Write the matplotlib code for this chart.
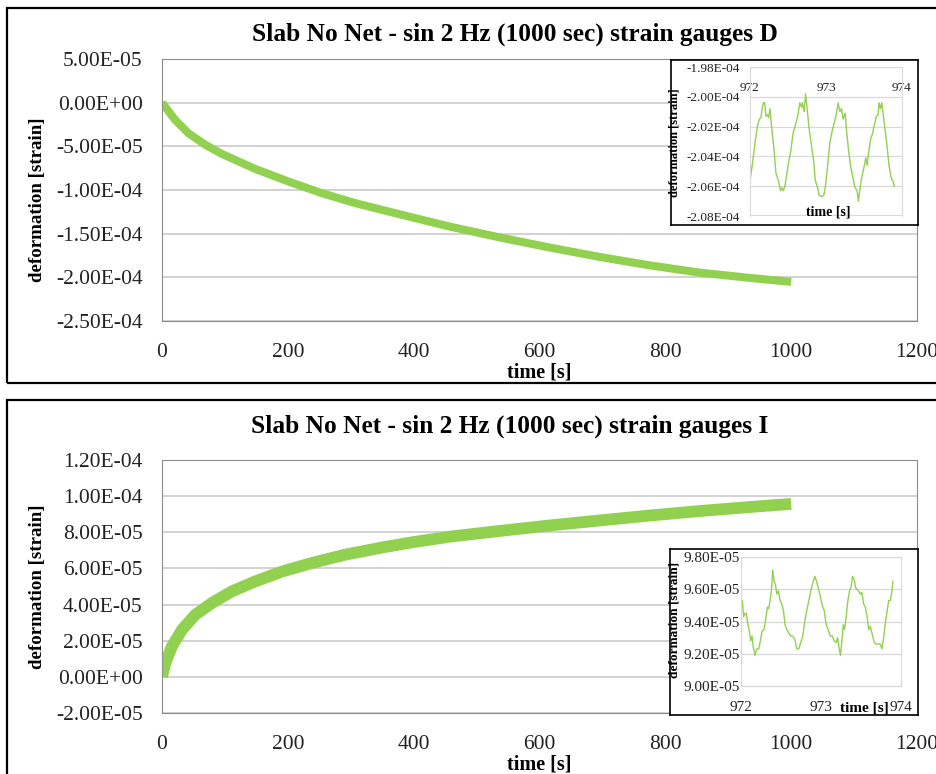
import numpy as np
import matplotlib
matplotlib.use("Agg")
import matplotlib.pyplot as plt
from matplotlib.patches import Rectangle

plt.rcParams['font.family'] = ['Liberation Serif', 'DejaVu Serif']

GREEN = '#92D050'

# --- gauge D, whole run (trend of the dense 2 Hz signal) ---
d_time = [0, 21, 42, 69, 95, 148, 201, 254, 307, 360, 403, 458, 538, 617,
          697, 776, 856, 935, 1000]
d_strain = [0, -19.8, -35.0, -48.3, -58.6, -75.8, -90.3, -103.6, -115.0,
            -124.6, -132.3, -142.0, -154.5, -166.0, -176.8, -186.4, -194.7,
            -200.7, -205.2]  # x1e-6

# --- gauge D, zoom 972-974 s ---
d_zoom_time = [972.000, 972.035, 972.066, 972.096, 972.123, 972.144, 972.162,
               972.179, 972.193, 972.210, 972.228, 972.245, 972.263, 972.284,
               972.315, 972.341, 972.372, 972.403, 972.420, 972.438, 972.460,
               972.481, 972.508, 972.534, 972.569, 972.604, 972.635, 972.656,
               972.678, 972.691, 972.713, 972.731, 972.748, 972.775, 972.810,
               972.840, 972.858, 972.884, 972.910, 972.941, 972.972, 972.993,
               973.020, 973.050, 973.085, 973.116, 973.138, 973.160, 973.182,
               973.204, 973.225, 973.252, 973.269, 973.295, 973.322, 973.357,
               973.383, 973.409, 973.427, 973.444, 973.466, 973.497, 973.523,
               973.540, 973.567, 973.589, 973.610, 973.632, 973.663, 973.685,
               973.698, 973.716, 973.733, 973.751, 973.772, 973.803, 973.829,
               973.856, 973.882, 973.899]
d_zoom_strain = [-205.6, -204.4, -203.1, -202.0, -201.5, -201.4, -200.7,
                 -200.4, -200.4, -201.3, -201.2, -201.4, -200.8, -202.0,
                 -203.5, -205.1, -205.6, -206.3, -206.1, -206.3, -206.0,
                 -205.3, -204.4, -203.7, -202.4, -201.8, -201.1, -200.4,
                 -200.7, -200.4, -201.0, -199.8, -200.6, -202.0, -203.3,
                 -204.4, -205.6, -206.0, -206.6, -206.7, -206.6, -206.0,
                 -204.7, -203.1, -202.2, -201.6, -201.1, -200.4, -201.0,
                 -200.8, -201.5, -201.1, -202.2, -203.5, -204.6, -205.5,
                 -206.1, -206.3, -207.0, -206.3, -205.5, -204.8, -204.1,
                 -204.6, -203.5, -202.8, -202.5, -202.0, -201.3, -201.2,
                 -200.4, -200.8, -200.4, -201.1, -202.0, -203.3, -204.6,
                 -205.4, -205.7, -206.0]

# --- gauge I, whole run ---
i_time = [0, 5.3, 15.9, 31.8, 53, 79.5, 111, 148, 191, 238, 291, 350, 400,
          458, 538, 617, 697, 776, 856, 935, 1000]
i_strain = [0, 7.7, 16.9, 26.1, 34.4, 40.9, 47.3, 52.8, 58.3, 63.0, 67.6,
            71.6, 74.6, 77.6, 80.8, 83.8, 86.6, 89.3, 91.8, 94.0, 95.7]

# --- gauge I, zoom 972-974 s ---
i_zoom_time = [972.000, 972.017, 972.033, 972.050, 972.067, 972.084, 972.104,
               972.121, 972.138, 972.154, 972.175, 972.196, 972.221, 972.246,
               972.263, 972.288, 972.313, 972.330, 972.347, 972.363, 972.380,
               972.397, 972.413, 972.430, 972.447, 972.468, 972.489, 972.509,
               972.530, 972.551, 972.572, 972.597, 972.622, 972.647, 972.672,
               972.697, 972.722, 972.747, 972.772, 972.797, 972.823, 972.848,
               972.873, 972.898, 972.923, 972.944, 972.965, 972.990, 973.015,
               973.040, 973.065, 973.090, 973.115, 973.140, 973.165, 973.190,
               973.207, 973.228, 973.244, 973.261, 973.278, 973.294, 973.315,
               973.336, 973.357, 973.374, 973.395, 973.415, 973.432, 973.449,
               973.470, 973.491, 973.511, 973.532, 973.553, 973.574, 973.595,
               973.616, 973.641, 973.666, 973.691, 973.712, 973.741, 973.762,
               973.783, 973.804, 973.825, 973.846, 973.866, 973.887, 973.900]
i_zoom_strain = [94.9, 95.3, 94.3, 94.5, 94.5, 93.9, 93.4, 92.8, 93.1, 92.4,
                 91.9, 92.3, 92.3, 92.9, 93.4, 93.5, 94.3, 94.9, 94.8, 95.3,
                 95.9, 97.2, 96.5, 96.3, 95.7, 95.9, 95.3, 95.1, 94.7, 93.8,
                 93.5, 93.3, 93.1, 93.1, 92.9, 92.3, 92.3, 92.7, 93.1, 94.0,
                 94.7, 95.3, 95.9, 96.4, 96.8, 96.5, 96.1, 95.6, 95.0, 94.7,
                 93.8, 93.5, 93.1, 93.1, 92.8, 92.7, 93.0, 92.3, 91.9, 92.8,
                 93.8, 93.5, 94.3, 95.3, 95.9, 96.1, 96.8, 96.6, 96.1, 96.0,
                 95.9, 95.7, 95.8, 95.1, 94.9, 94.4, 93.5, 93.7, 93.2, 92.7,
                 92.6, 92.6, 92.6, 92.3, 93.0, 93.9, 94.6, 95.3, 95.3, 95.9,
                 96.5]

W, H = 937, 774


def rect(x0, y0, x1, y1):
    # pixel box (top-left origin) -> figure fraction [l, b, w, h]
    return [x0 / W, 1 - y1 / H, (x1 - x0) / W, (y1 - y0) / H]


def fpos(x, y):
    return x / W, 1 - y / H


def sci(v, pos=None):
    return '%.2E' % v


fig = plt.figure(figsize=(W / 100, H / 100), dpi=100)

# panel frames
for y0, y1 in [(8, 383), (400, 790)]:
    l, b, w, h = rect(7, y0, 945, y1)
    fig.patches.append(Rectangle((l, b), w, h, transform=fig.transFigure,
                                 fill=False, ec='black', lw=1.6))


def main_axes(box, t, v, ylim, step, lw):
    ax = fig.add_axes(rect(*box))
    ax.plot(t, np.array(v) * 1e-6, color=GREEN, lw=lw,
            solid_capstyle='butt', solid_joinstyle='round')
    ax.set_xlim(0, 1200)
    ax.set_ylim(*ylim)
    ax.set_xticks(np.arange(0, 1201, 200))
    ax.set_yticks(np.arange(ylim[0], ylim[1] + step / 2, step))
    ax.yaxis.set_major_formatter(plt.FuncFormatter(sci))
    ax.tick_params(length=0, labelsize=15.5, colors='#222222')
    ax.tick_params(axis='y', pad=14)
    ax.tick_params(axis='x', pad=16)
    ax.grid(axis='y', color='#c6c6c6', lw=1.1)
    ax.set_axisbelow(True)
    for s in ax.spines.values():
        s.set_color('#8c8c8c')
    return ax


main_axes((162, 59, 917, 321), d_time, d_strain, (-2.5e-4, 5e-5), 5e-5, 5.8)
main_axes((162, 460, 917, 713), i_time, i_strain, (-2e-5, 1.2e-4), 2e-5, 8.5)

# titles and labels
fig.text(*fpos(515, 34), 'Slab No Net - sin 2 Hz (1000 sec) strain gauges D',
         ha='center', va='center', fontsize=18.3, fontweight='bold')
fig.text(*fpos(510, 426), 'Slab No Net - sin 2 Hz (1000 sec) strain gauges I',
         ha='center', va='center', fontsize=18.3, fontweight='bold')
for y in (373, 765):
    fig.text(*fpos(539, y), 'time [s]', ha='center', va='center',
             fontsize=14.5, fontweight='bold')
for y in (200, 587):
    fig.text(*fpos(38, y), 'deformation [strain]', ha='center', va='center',
             rotation=90, fontsize=13.6, fontweight='bold')


def inset(frame, box, t, v, ylim, top_axis, fs):
    fr = fig.add_axes(rect(*frame), zorder=3)
    fr.set_xticks([])
    fr.set_yticks([])
    for s in fr.spines.values():
        s.set_color('black')
        s.set_linewidth(1.2)
    ax = fig.add_axes(rect(*box), zorder=4)
    ax.patch.set_alpha(0)
    ax.plot(t, np.array(v) * 1e-6, color=GREEN, lw=1.0)
    ax.set_xlim(972, 974)
    ax.set_ylim(*ylim)
    ax.set_xticks([972, 973, 974])
    ax.set_yticks(np.arange(ylim[0], ylim[1] + 1e-6, 2e-6))
    ax.yaxis.set_major_formatter(plt.FuncFormatter(sci))
    ax.grid(axis='y', color='#d9d9d9', lw=0.9)
    for s in ax.spines.values():
        s.set_color('#d9d9d9')
    ax.tick_params(length=0, labelsize=fs, colors='#222222')
    if top_axis:
        # horizontal axis crosses near the top of the value range
        ax.tick_params(axis='y', pad=7)
        ax.spines['bottom'].set_position(('data', ylim[1] - 0.8e-6))
        ax.spines['bottom'].set_color('none')
        ax.tick_params(axis='x', pad=2)
    else:
        ax.tick_params(axis='y', pad=1)
        ax.tick_params(axis='x', pad=11)
    return ax


ax1 = inset((671, 60, 918, 225), (750, 67, 902, 216), d_zoom_time,
            d_zoom_strain, (-2.08e-4, -1.98e-4), True, 9.5)
ax1.axhline(-2.08e-4, color='#d9d9d9', lw=1.5)
fig.text(*fpos(828, 212), 'time [s]', ha='center', va='center',
         fontsize=10, fontweight='bold', zorder=5)
fig.text(*fpos(675, 143), 'deformation [strain]', ha='center', va='center',
         rotation=90, fontsize=9, fontweight='bold', zorder=5)

ax2 = inset((670, 549, 918, 715), (741, 557, 901, 686), i_zoom_time,
            i_zoom_strain, (9.0e-5, 9.8e-5), False, 11)
fig.text(*fpos(864, 708), 'time [s]', ha='center', va='center',
         fontsize=11, fontweight='bold', zorder=5)
fig.text(*fpos(675, 620), 'deformation [strain]', ha='center', va='center',
         rotation=90, fontsize=9.6, fontweight='bold', zorder=5)

fig.savefig('out.png', dpi=100)
